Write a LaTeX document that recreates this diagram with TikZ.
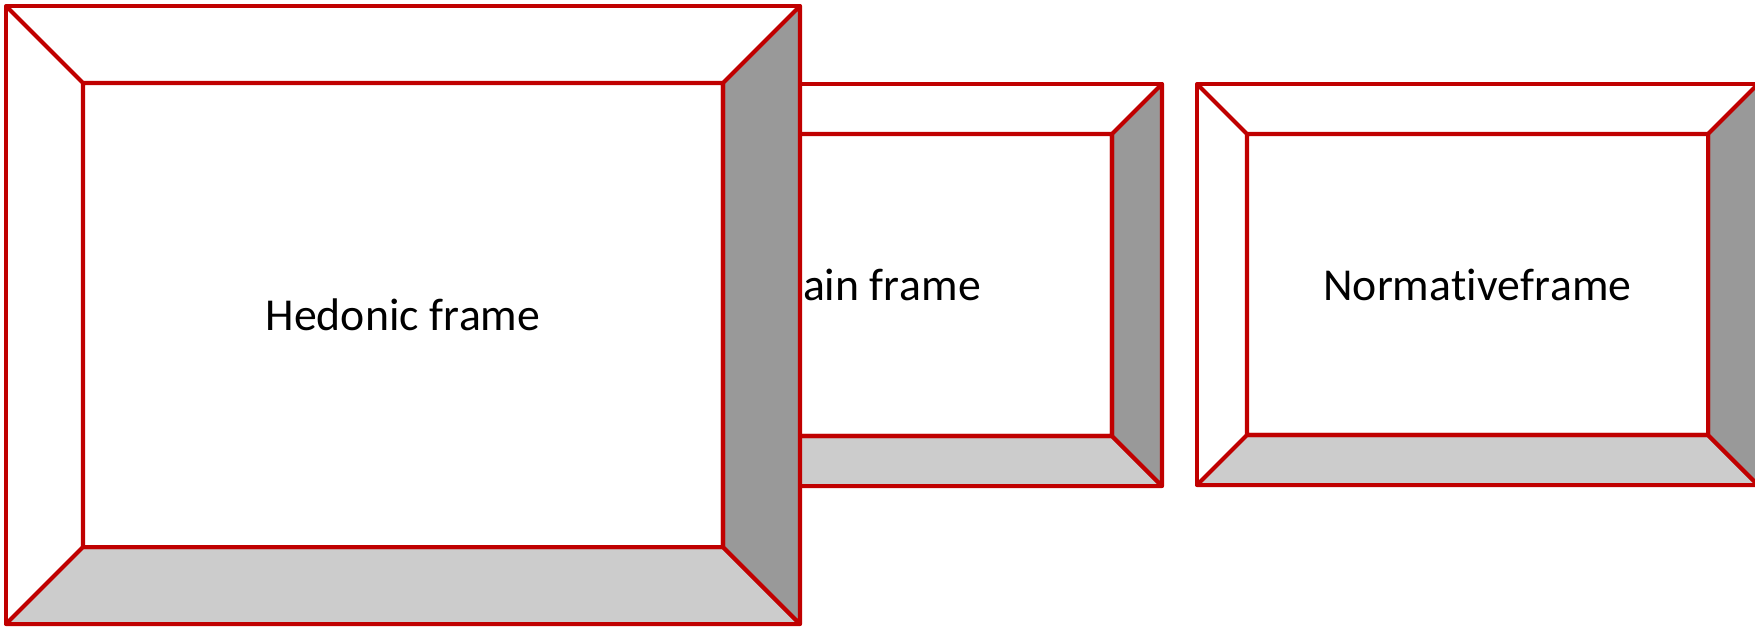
\documentclass[tikz,border=0pt]{standalone}
\usepackage{fontspec}
\setmainfont{Carlito}[Kerning=Off, Ligatures=NoCommon]
\usetikzlibrary{calc}
\usepackage{xcolor}
\definecolor{FrameRed}{HTML}{C00000}
\definecolor{SideGray}{HTML}{999999}
\definecolor{FloorGray}{HTML}{CCCCCC}
\tikzset{
  rimline/.style={draw=FrameRed, line width=1.15pt, line join=round},
  wallface/.style={rimline, fill=white},
  sideface/.style={rimline, fill=SideGray},
  floorface/.style={rimline, fill=FloorGray},
  flabel/.style={font=\fontsize{13}{15}\selectfont, inner sep=0pt},
}

\begin{document}
\begin{tikzpicture}[x=0.01cm, y=-0.01cm]
    \useasboundingbox (0,0) rectangle (1755,629);
    % back frames first, hedonic frame last (it hides the gain frame)
    \foreach \n/\x/\y/\X/\Y/\b/\dx/\txt in {
        gain/605/84/1162/486/50/-6/Gain frame,
        norm/1197/84/1758/485/50/0/Normativeframe,
        hedo/6/6/800/624/77/0/Hedonic frame} {
      \coordinate (\n-onw) at (\x,\y);
      \coordinate (\n-ose) at (\X,\Y);
      \coordinate (\n-inw) at (\x+\b,\y+\b);
      \coordinate (\n-ise) at (\X-\b,\Y-\b);
      \draw[wallface] (\n-onw) rectangle (\n-ose);
      \draw[floorface] (\n-onw |- \n-ose) -- (\n-ose) -- (\n-ise) -- (\n-inw |- \n-ise) -- cycle;
      \draw[sideface] (\n-ose) -- (\n-ose |- \n-onw) -- (\n-ise |- \n-inw) -- (\n-ise) -- cycle;
      \draw[rimline] (\n-onw) -- (\n-inw) rectangle (\n-ise);
      \node[flabel] (\n) at ($(\n-inw)!0.5!(\n-ise) + (\dx,0)$) {\txt};
    }
  \end{tikzpicture}
\end{document}
